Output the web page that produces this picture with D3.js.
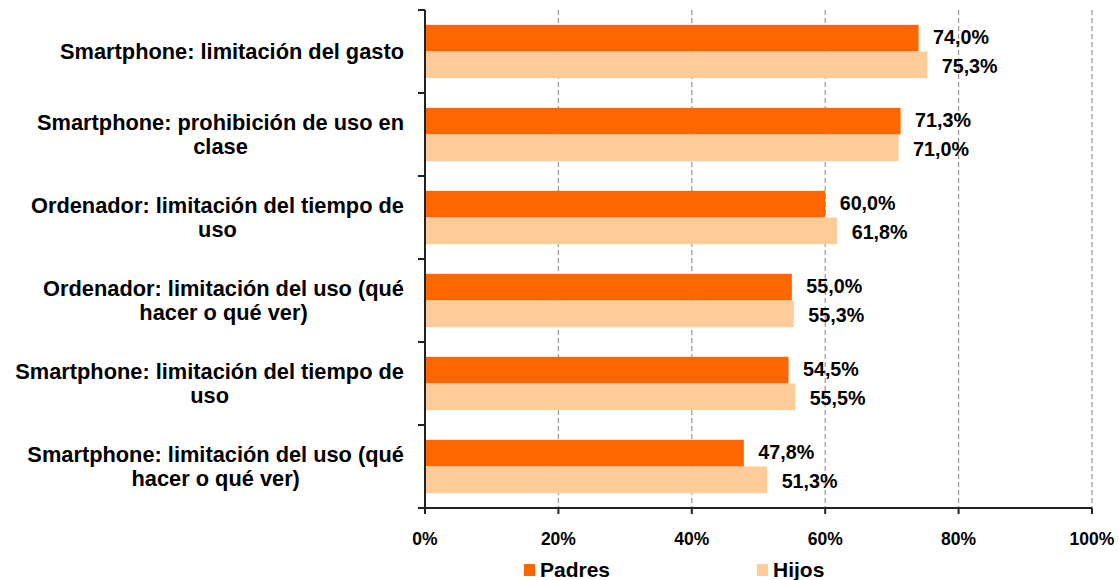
<!DOCTYPE html>
<html>
<head>
<meta charset="utf-8">
<script src="https://cdn.jsdelivr.net/npm/d3@7"></script>
<style>
  html, body { margin: 0; padding: 0; background: #fff; }
  svg { display: block; font-family: "Liberation Sans", Arial, sans-serif; font-weight: bold; }
</style>
</head>
<body>
<svg id="chart" width="1119" height="580"></svg>
<script>
const categories = [
  ["Smartphone: limitación del gasto"],
  ["Smartphone: prohibición de uso en", "clase"],
  ["Ordenador: limitación del tiempo de", "uso"],
  ["Ordenador: limitación del uso (qué", "hacer o qué ver)"],
  ["Smartphone: limitación del tiempo de", "uso"],
  ["Smartphone: limitación del uso (qué", "hacer o qué ver)"]
];
const seriesNames = ["Padres", "Hijos"];
const padres = [74.0, 71.3, 60.0, 55.0, 54.5, 47.8];
const hijos  = [75.3, 71.0, 61.8, 55.3, 55.5, 51.3];
const xTicks = [0, 20, 40, 60, 80, 100];
const colors = ["#FF6600", "#FFCC99"];

(function () {
const svg = d3.select("#chart");
const pL = 425, pR = 1092, pT = 10, pB = 508;

const x = d3.scaleLinear().domain([0, 100]).range([pL, pR]);
const y = d3.scaleBand().domain(d3.range(categories.length)).range([pT, pB])
  .paddingInner(0.357).paddingOuter(0.1785);
const ys = d3.scaleBand().domain(seriesNames).range([0, y.bandwidth()]);

const fmt = v => v.toFixed(1).replace(".", ",") + "%";

// gridlines
svg.append("g").selectAll("line").data(xTicks.slice(1)).join("line")
  .attr("x1", d => x(d)).attr("x2", d => x(d))
  .attr("y1", pT).attr("y2", pB)
  .attr("stroke", "#999").attr("stroke-width", 1.2).attr("stroke-dasharray", "5,3");

// bars
const data = categories.map((c, i) => ({ i, vals: [padres[i], hijos[i]] }));
const grp = svg.append("g").selectAll("g").data(data).join("g")
  .attr("transform", d => `translate(0,${y(d.i)})`);
grp.selectAll("rect").data(d => d.vals.map((v, k) => ({ v, k }))).join("rect")
  .attr("x", x(0)).attr("y", d => ys(seriesNames[d.k]))
  .attr("width", d => x(d.v) - x(0)).attr("height", ys.bandwidth())
  .attr("fill", d => colors[d.k]);
grp.selectAll("text").data(d => d.vals.map((v, k) => ({ v, k }))).join("text")
  .attr("x", d => x(d.v) + 14.5)
  .attr("y", d => ys(seriesNames[d.k]) + ys.bandwidth() / 2 + (d.k === 0 ? -1 : 1))
  .attr("dy", "0.35em")
  .attr("font-size", 19.7).attr("fill", "#000")
  .text(d => fmt(d.v));

// left axis
const yAxisG = svg.append("g");
yAxisG.append("line").attr("x1", pL).attr("x2", pL).attr("y1", pT).attr("y2", pB)
  .attr("stroke", "#222").attr("stroke-width", 2);
const boundaries = d3.range(categories.length + 1).map(i => pT + i * y.step());
yAxisG.selectAll("line.t").data(boundaries).join("line").attr("class", "t")
  .attr("x1", pL - 7).attr("x2", pL).attr("y1", d => d).attr("y2", d => d)
  .attr("stroke", "#222").attr("stroke-width", 2);

// bottom axis
const xAxisG = svg.append("g");
xAxisG.append("line").attr("x1", pL).attr("x2", pR).attr("y1", pB).attr("y2", pB)
  .attr("stroke", "#222").attr("stroke-width", 2);
xAxisG.selectAll("line.t").data(xTicks).join("line").attr("class", "t")
  .attr("x1", d => x(d)).attr("x2", d => x(d)).attr("y1", pB).attr("y2", pB + 6)
  .attr("stroke", "#222").attr("stroke-width", 2);
xAxisG.selectAll("text").data(xTicks).join("text")
  .attr("x", d => x(d)).attr("y", 545)
  .attr("text-anchor", "middle").attr("font-size", 17.5).attr("fill", "#000")
  .text(d => d + "%");

// category labels (block right-aligned, lines centered)
const labelRight = 404;
const fs = 21.8;
categories.forEach((lines, i) => {
  const cy = y(i) + y.bandwidth() / 2;
  const g = svg.append("g");
  const texts = lines.map((ln, j) => g.append("text")
    .attr("font-size", fs).attr("fill", "#000").text(ln));
  const widths = texts.map(t => t.node().getComputedTextLength());
  const maxW = d3.max(widths);
  const cx = labelRight - maxW / 2;
  const lh = 24;
  const firstBase = cy - (lines.length - 1) * lh / 2 + 7.5;
  texts.forEach((t, j) => t.attr("x", cx).attr("text-anchor", "middle").attr("y", firstBase + j * lh));
});

// legend
const legendItems = [{ sx: 524, tx: 540 }, { sx: 757, tx: 773 }];
const lg = svg.append("g");
legendItems.forEach((it, k) => {
  lg.append("rect").attr("x", it.sx).attr("y", 564).attr("width", 11).attr("height", 12).attr("fill", colors[k]);
  lg.append("text").attr("x", it.tx).attr("y", 577).attr("font-size", 21).attr("fill", "#000").text(seriesNames[k]);
});
})();
</script>
</body>
</html>
